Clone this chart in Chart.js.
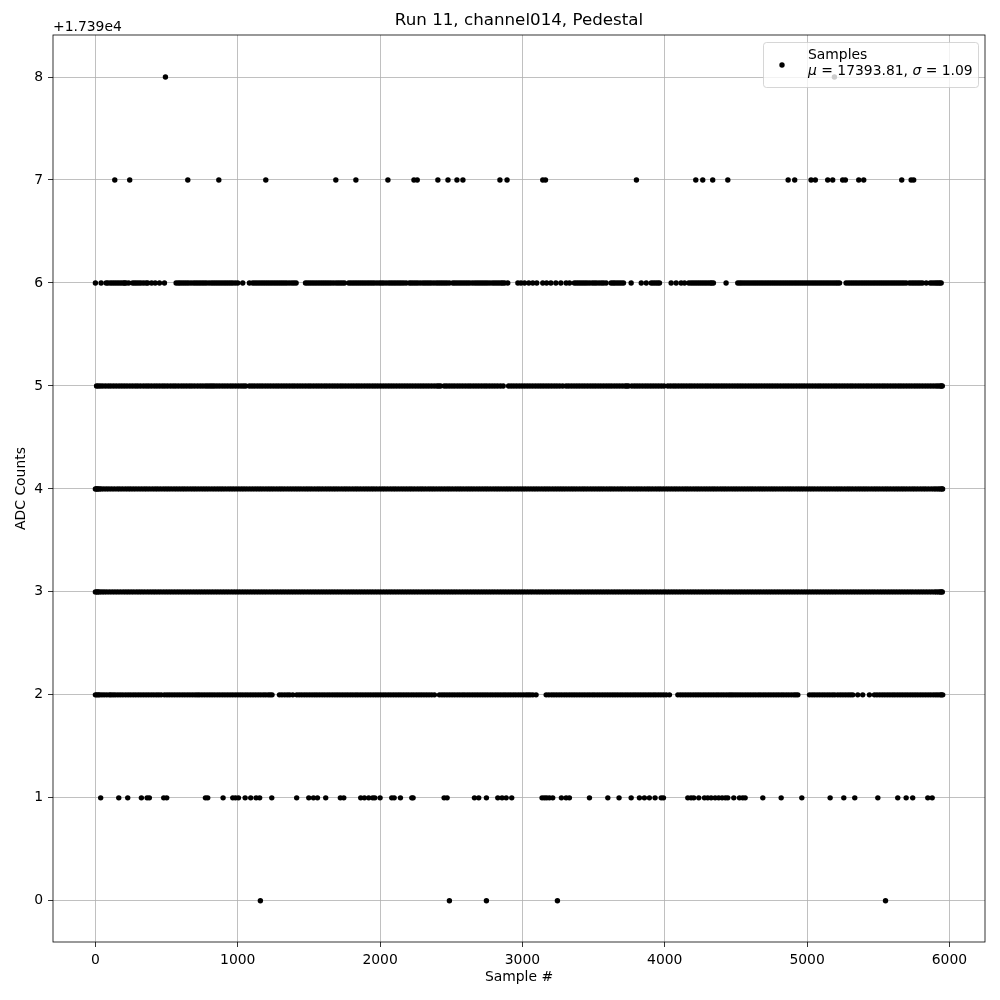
<!DOCTYPE html>
<html>
<head>
<meta charset="utf-8">
<script src="https://cdn.jsdelivr.net/npm/chart.js@4/dist/chart.umd.min.js"></script>
<style>
  html, body { margin: 0; padding: 0; background: #fff; }
  #wrap { width: 1000px; height: 1000px; }
</style>
</head>
<body>
<div id="wrap"><canvas id="graph" width="1000" height="1000"></canvas></div>
<script>
const adcLevels = [17390, 17391, 17392, 17393, 17394, 17395, 17396, 17397, 17398];

const samplesAt0 = [1159, 2487, 2747, 3246, 5551];

const samplesAt1 = [37, 164, 227, 323, 363, 379, 480, 501, 773, 789, 897, 965, 984, 1005, 1052, 1091, 1129, 1154,
  1239, 1414, 1499, 1532, 1560, 1618, 1721, 1745, 1864, 1890, 1920, 1948, 1963, 2000, 2082, 2099, 2143, 2223, 2232,
  2450, 2471, 2663, 2693, 2747, 2827, 2857, 2886, 2925, 3138, 3155, 3171, 3190, 3213, 3274, 3307, 3330, 3471, 3600,
  3679, 3764, 3822, 3857, 3892, 3932, 3975, 3991, 4162, 4185, 4204, 4239, 4279, 4302, 4326, 4354, 4379, 4403, 4426,
  4443, 4485, 4525, 4548, 4565, 4689, 4818, 4963, 5162, 5258, 5335, 5497, 5637, 5696, 5742, 5848, 5879];

const samplesAt2 = [0, 10, 30, 62, 98, 110, 140, 175, 212, 248, 284, 320, 356, 392, 428, 462, 485, 520, 556, 592,
  628, 664, 700, 731, 749, 785, 820, 856, 892, 928, 964, 1000, 1035, 1071, 1107, 1143, 1179, 1214, 1241, 1293, 1330,
  1365, 1387, 1415, 1450, 1486, 1522, 1557, 1593, 1629, 1665, 1700, 1736, 1772, 1808, 1843, 1879, 1915, 1951, 1986,
  2022, 2058, 2094, 2130, 2165, 2201, 2237, 2273, 2308, 2344, 2382, 2417, 2452, 2488, 2524, 2560, 2595, 2631, 2667,
  2703, 2738, 2774, 2810, 2846, 2881, 2917, 2953, 2989, 3025, 3055, 3073, 3096, 3167, 3205, 3240, 3276, 3312, 3348,
  3383, 3419, 3455, 3491, 3526, 3562, 3598, 3634, 3669, 3705, 3741, 3777, 3812, 3848, 3884, 3920, 3955, 3991, 4010,
  4033, 4092, 4128, 4164, 4200, 4235, 4271, 4307, 4343, 4378, 4414, 4450, 4480, 4514, 4549, 4585, 4621, 4657, 4692,
  4728, 4764, 4800, 4835, 4871, 4907, 4935, 5017, 5052, 5088, 5124, 5160, 5195, 5216, 5252, 5288, 5321, 5356, 5391,
  5438, 5473, 5510, 5546, 5582, 5617, 5653, 5689, 5725, 5760, 5796, 5832, 5868, 5903, 5935, 5953,
  20, 46, 80, 125, 158, 193, 230, 266, 302, 338, 374, 410, 445, 503, 538, 574, 610, 646, 682, 716, 767, 803, 838,
  874, 910, 946, 982, 1017, 1053, 1089, 1125, 1161, 1196, 1228, 1311, 1348, 1432, 1468, 1504, 1540, 1575, 1611, 1647,
  1683, 1718, 1754, 1790, 1826, 1861, 1897, 1933, 1969, 2004, 2040, 2076, 2112, 2147, 2183, 2219, 2255, 2290, 2326,
  2363, 2435, 2470, 2506, 2542, 2578, 2613, 2649, 2685, 2721, 2756, 2792, 2828, 2864, 2899, 2935, 2971, 3007, 3040,
  3186, 3222, 3258, 3294, 3330, 3365, 3401, 3437, 3473, 3508, 3544, 3580, 3616, 3651, 3687, 3723, 3759, 3794, 3830,
  3866, 3902, 3937, 3973, 4110, 4146, 4182, 4218, 4253, 4289, 4325, 4361, 4396, 4432, 4465, 4497, 4531, 4567, 4603,
  4639, 4674, 4710, 4746, 4782, 4818, 4853, 4889, 4921, 5035, 5070, 5106, 5142, 5178, 5234, 5270, 5305, 5491, 5528,
  5564, 5600, 5635, 5671, 5707, 5743, 5778, 5814, 5850, 5886, 5919, 5944];

const samplesAt3 = [0, 11, 30, 62, 99, 137, 175, 214, 251, 290, 327, 366, 404, 441, 480, 518, 556, 594, 632, 670,
  709, 747, 785, 823, 861, 899, 937, 976, 1014, 1052, 1090, 1128, 1166, 1204, 1243, 1281, 1319, 1357, 1395, 1433,
  1471, 1510, 1548, 1586, 1624, 1662, 1700, 1738, 1777, 1815, 1853, 1891, 1929, 1967, 2005, 2044, 2082, 2120, 2158,
  2196, 2234, 2272, 2311, 2349, 2387, 2425, 2463, 2501, 2539, 2578, 2616, 2654, 2692, 2730, 2768, 2806, 2845, 2883,
  2921, 2959, 2997, 3035, 3073, 3112, 3150, 3188, 3226, 3264, 3302, 3340, 3379, 3417, 3455, 3493, 3531, 3569, 3607,
  3646, 3684, 3722, 3760, 3798, 3836, 3874, 3913, 3951, 3989, 4027, 4065, 4103, 4141, 4180, 4218, 4256, 4294, 4332,
  4370, 4408, 4447, 4485, 4523, 4561, 4599, 4637, 4675, 4714, 4752, 4790, 4828, 4866, 4904, 4942, 4981, 5019, 5057,
  5095, 5133, 5171, 5209, 5248, 5286, 5324, 5362, 5400, 5438, 5476, 5515, 5553, 5591, 5629, 5667, 5705, 5743, 5782,
  5820, 5858, 5896, 5925, 5944, 5950,
  18, 46, 80, 118, 156, 195, 232, 270, 308, 346, 385, 422, 460, 499, 537, 575, 613, 651, 690, 728, 766, 804, 842,
  880, 918, 957, 995, 1033, 1071, 1109, 1147, 1185, 1224, 1262, 1300, 1338, 1376, 1414, 1452, 1491, 1529, 1567, 1605,
  1643, 1681, 1719, 1758, 1796, 1834, 1872, 1910, 1948, 1986, 2025, 2063, 2101, 2139, 2177, 2215, 2253, 2292, 2330,
  2368, 2406, 2444, 2482, 2520, 2559, 2597, 2635, 2673, 2711, 2749, 2787, 2826, 2864, 2902, 2940, 2978, 3016, 3054,
  3093, 3131, 3169, 3207, 3245, 3283, 3321, 3360, 3398, 3436, 3474, 3512, 3550, 3588, 3627, 3665, 3703, 3741, 3779,
  3817, 3855, 3894, 3932, 3970, 4008, 4046, 4084, 4122, 4161, 4199, 4237, 4275, 4313, 4351, 4389, 4428, 4466, 4504,
  4542, 4580, 4618, 4656, 4695, 4733, 4771, 4809, 4847, 4885, 4923, 4962, 5000, 5038, 5076, 5114, 5152, 5190, 5229,
  5267, 5305, 5343, 5381, 5419, 5457, 5496, 5534, 5572, 5610, 5648, 5686, 5724, 5763, 5801, 5839, 5877, 5910, 5936];

const samplesAt4 = [0, 6, 19, 41, 77, 114, 153, 190, 229, 266, 305, 343, 380, 419, 456, 495, 532, 571, 609, 646,
  685, 722, 761, 798, 837, 875, 912, 951, 988, 1027, 1064, 1103, 1141, 1178, 1217, 1254, 1293, 1330, 1369, 1407, 1444,
  1483, 1520, 1559, 1596, 1635, 1673, 1710, 1749, 1786, 1825, 1862, 1901, 1939, 1976, 2015, 2052, 2091, 2128, 2167,
  2205, 2242, 2281, 2318, 2357, 2394, 2433, 2471, 2508, 2547, 2584, 2623, 2660, 2699, 2737, 2774, 2813, 2850, 2889,
  2926, 2965, 3003, 3040, 3079, 3116, 3155, 3192, 3231, 3269, 3306, 3345, 3382, 3421, 3458, 3497, 3535, 3572, 3611,
  3648, 3687, 3724, 3763, 3801, 3838, 3877, 3914, 3953, 3990, 4029, 4067, 4104, 4143, 4180, 4219, 4256, 4295, 4333,
  4370, 4409, 4446, 4485, 4522, 4561, 4599, 4636, 4675, 4712, 4751, 4788, 4827, 4865, 4902, 4941, 4978, 5017, 5054,
  5093, 5131, 5168, 5207, 5244, 5283, 5320, 5359, 5397, 5434, 5473, 5510, 5549, 5586, 5625, 5663, 5700, 5739, 5776,
  5815, 5852, 5891, 5922, 5947, 5952,
  13, 30, 59, 95, 133, 171, 210, 247, 285, 324, 361, 400, 437, 476, 513, 552, 590, 627, 666, 703, 742, 779, 818, 856,
  893, 932, 969, 1008, 1045, 1084, 1122, 1159, 1198, 1235, 1274, 1311, 1350, 1388, 1425, 1464, 1501, 1540, 1577, 1616,
  1654, 1691, 1730, 1767, 1806, 1843, 1882, 1920, 1957, 1996, 2033, 2072, 2109, 2148, 2186, 2223, 2262, 2299, 2338,
  2375, 2414, 2452, 2489, 2528, 2565, 2604, 2641, 2680, 2718, 2755, 2794, 2831, 2870, 2907, 2946, 2984, 3021, 3060,
  3097, 3136, 3173, 3212, 3250, 3287, 3326, 3363, 3402, 3439, 3478, 3516, 3553, 3592, 3629, 3668, 3705, 3744, 3782,
  3819, 3858, 3895, 3934, 3971, 4010, 4048, 4085, 4124, 4161, 4200, 4237, 4276, 4314, 4351, 4390, 4427, 4466, 4503,
  4542, 4580, 4617, 4656, 4693, 4732, 4769, 4808, 4846, 4883, 4922, 4959, 4998, 5035, 5074, 5112, 5149, 5188, 5225,
  5264, 5301, 5340, 5378, 5415, 5454, 5491, 5530, 5567, 5606, 5644, 5681, 5720, 5757, 5796, 5833, 5872, 5906, 5935];

const samplesAt5 = [8, 20, 52, 90, 127, 166, 203, 242, 280, 317, 356, 393, 432, 470, 507, 546, 583, 622, 660, 697,
  736, 774, 806, 836, 872, 910, 948, 985, 1023, 1056, 1082, 1118, 1156, 1193, 1231, 1269, 1306, 1344, 1382, 1419,
  1457, 1495, 1532, 1570, 1608, 1645, 1683, 1721, 1758, 1796, 1834, 1871, 1909, 1947, 1984, 2022, 2060, 2097, 2135,
  2173, 2210, 2248, 2286, 2323, 2361, 2399, 2425, 2451, 2486, 2523, 2561, 2599, 2636, 2674, 2712, 2749, 2787, 2825,
  2865, 2903, 2940, 2978, 3016, 3053, 3091, 3129, 3166, 3204, 3242, 3283, 3307, 3344, 3382, 3419, 3457, 3495, 3532,
  3570, 3608, 3645, 3683, 3721, 3745, 3769, 3806, 3844, 3882, 3919, 3957, 3995, 4022, 4060, 4097, 4135, 4173, 4210,
  4248, 4286, 4323, 4361, 4399, 4436, 4474, 4512, 4549, 4587, 4625, 4662, 4700, 4738, 4775, 4813, 4851, 4888, 4926,
  4964, 5001, 5039, 5077, 5114, 5152, 5190, 5227, 5265, 5303, 5340, 5378, 5416, 5453, 5491, 5529, 5566, 5604, 5642,
  5679, 5717, 5755, 5792, 5830, 5868, 5905, 5935, 5950,
  35, 71, 108, 146, 185, 222, 261, 298, 337, 374, 413, 451, 488, 527, 564, 603, 641, 678, 717, 755, 790, 821, 854,
  891, 929, 966, 1004, 1040, 1100, 1137, 1174, 1212, 1250, 1287, 1325, 1363, 1400, 1438, 1476, 1513, 1551, 1589, 1626,
  1664, 1702, 1739, 1777, 1815, 1852, 1890, 1928, 1965, 2003, 2041, 2078, 2116, 2154, 2191, 2229, 2267, 2304, 2342,
  2380, 2412, 2468, 2505, 2542, 2580, 2618, 2655, 2693, 2731, 2768, 2806, 2845, 2921, 2959, 2997, 3034, 3072, 3110,
  3147, 3185, 3223, 3262, 3325, 3363, 3400, 3438, 3476, 3513, 3551, 3589, 3626, 3664, 3702, 3733, 3788, 3825, 3863,
  3901, 3938, 3976, 4041, 4078, 4116, 4154, 4191, 4229, 4267, 4304, 4342, 4380, 4417, 4455, 4493, 4530, 4568, 4606,
  4643, 4681, 4719, 4756, 4794, 4832, 4869, 4907, 4945, 4982, 5020, 5058, 5095, 5133, 5171, 5208, 5246, 5284, 5321,
  5359, 5397, 5434, 5472, 5510, 5547, 5585, 5623, 5660, 5698, 5736, 5773, 5811, 5849, 5886, 5920, 5943];

const samplesAt6 = [0, 40, 75, 105, 135, 165, 195, 215, 234, 262, 290, 320, 356, 368, 395, 420, 450, 485, 567, 595,
  625, 655, 690, 720, 750, 780, 815, 845, 875, 905, 935, 965, 1000, 1035, 1082, 1105, 1135, 1165, 1195, 1225, 1255,
  1285, 1315, 1345, 1380, 1410, 1476, 1505, 1535, 1565, 1595, 1625, 1655, 1690, 1720, 1750, 1780, 1810, 1840, 1870,
  1900, 1930, 1960, 1995, 2025, 2060, 2090, 2120, 2150, 2183, 2206, 2235, 2265, 2300, 2330, 2360, 2395, 2425, 2455,
  2487, 2511, 2540, 2570, 2600, 2630, 2665, 2695, 2725, 2755, 2790, 2820, 2850, 2875, 2897, 2968, 2990, 3015, 3045,
  3073, 3101, 3143, 3170, 3200, 3235, 3270, 3307, 3331, 3365, 3395, 3425, 3455, 3490, 3520, 3555, 3588, 3623, 3650,
  3680, 3710, 3764, 3835, 3870, 3905, 3935, 3963, 4045, 4080, 4115, 4139, 4169, 4200, 4230, 4260, 4290, 4320, 4342,
  4431, 4513, 4540, 4570, 4600, 4630, 4660, 4690, 4720, 4750, 4780, 4810, 4840, 4870, 4900, 4930, 4960, 4990, 5020,
  5050, 5080, 5110, 5140, 5170, 5200, 5228, 5274, 5305, 5335, 5365, 5395, 5425, 5455, 5485, 5515, 5545, 5575, 5605,
  5635, 5665, 5696, 5719, 5750, 5780, 5810, 5837, 5865, 5895, 5920, 5942,
  88, 120, 150, 180, 205, 276, 305, 338, 582, 610, 640, 672, 705, 735, 765, 798, 830, 860, 890, 920, 950, 982, 1120,
  1150, 1180, 1210, 1240, 1270, 1300, 1330, 1362, 1395, 1490, 1520, 1550, 1580, 1610, 1640, 1672, 1705, 1735, 1795,
  1825, 1855, 1885, 1915, 1945, 1978, 2010, 2042, 2075, 2105, 2135, 2166, 2220, 2250, 2282, 2315, 2345, 2378, 2410,
  2440, 2470, 2525, 2555, 2585, 2615, 2648, 2680, 2710, 2740, 2772, 2805, 2835, 2862, 3380, 3410, 3440, 3472, 3505,
  3538, 3570, 3637, 3665, 3695, 3920, 3950, 4185, 4215, 4245, 4275, 4305, 4330, 4527, 4555, 4585, 4615, 4645, 4675,
  4705, 4735, 4765, 4795, 4825, 4855, 4885, 4915, 4945, 4975, 5005, 5035, 5065, 5095, 5125, 5155, 5185, 5214, 5290,
  5320, 5350, 5380, 5410, 5440, 5470, 5500, 5530, 5560, 5590, 5620, 5650, 5680, 5735, 5765, 5795, 5880, 5908, 5932];

const samplesAt7 = [136, 241, 649, 867, 1197, 1689, 1830, 2055, 2238, 2261, 2406, 2477, 2540, 2582, 2842, 2892,
  3143, 3162, 3801, 4218, 4267, 4337, 4443, 4867, 4913, 5028, 5058, 5145, 5180, 5250, 5269, 5363, 5398, 5665, 5731,
  5749];

const samplesAt8 = [492, 5192];

const samplesByLevel = [samplesAt0, samplesAt1, samplesAt2, samplesAt3, samplesAt4,
  samplesAt5, samplesAt6, samplesAt7, samplesAt8];

const xTicks = [0, 1000, 2000, 3000, 4000, 5000, 6000];
const yTicks = [17390, 17391, 17392, 17393, 17394, 17395, 17396, 17397, 17398];
const yOffset = 17390;
const yOffsetLabel = "+1.739e4";
const titleText = "Run 11, channel014, Pedestal";
const meanText = "17393.81";
const sigmaText = "1.09";

const FONT = "'DejaVu Sans', 'Liberation Sans', sans-serif";

const points = [];
adcLevels.forEach((lvl, i) => {
  samplesByLevel[i].forEach(s => points.push({ x: s, y: lvl }));
});

const mplExtras = {
  id: "mplExtras",
  afterDraw(chart) {
    const ctx = chart.ctx;
    const a = chart.chartArea;
    ctx.save();
    // axes frame
    ctx.strokeStyle = "#000";
    ctx.lineWidth = 0.8;
    ctx.strokeRect(a.left, a.top, a.right - a.left, a.bottom - a.top);

    // title, centred over the axes
    ctx.fillStyle = "#000";
    ctx.font = "16.7px " + FONT;
    ctx.textAlign = "center";
    ctx.textBaseline = "middle";
    ctx.fillText(titleText, (a.left + a.right) / 2, 21);

    // offset text
    ctx.font = "13.9px " + FONT;
    ctx.textBaseline = "alphabetic";
    ctx.textAlign = "left";
    ctx.fillText(yOffsetLabel, a.left, 31);

    // legend
    const bx = 763.5, by = 42.5, bw = 215, bh = 45;
    ctx.beginPath();
    ctx.roundRect(bx, by, bw, bh, 3);
    ctx.fillStyle = "rgba(255,255,255,0.8)";
    ctx.fill();
    ctx.strokeStyle = "rgba(204,204,204,0.8)";
    ctx.lineWidth = 1;
    ctx.stroke();
    ctx.beginPath();
    ctx.arc(782, 65, 2.7, 0, Math.PI * 2);
    ctx.fillStyle = "#000";
    ctx.fill();

    ctx.font = "13.9px " + FONT;
    ctx.fillText("Samples", 808, 58.5);
    let x = 808;
    const y2 = 74.5;
    const parts = [
      ["μ", true], [" = " + meanText + ", ", false], ["σ", true], [" = " + sigmaText, false]
    ];
    parts.forEach(([t, it]) => {
      ctx.font = (it ? "italic " : "") + "13.9px " + FONT;
      ctx.fillText(t, x, y2);
      x += ctx.measureText(t).width;
    });
    ctx.restore();
  }
};

const ctx = document.getElementById("graph").getContext("2d");
new Chart(ctx, {
  type: "scatter",
  data: {
    datasets: [{
      label: "Samples",
      data: points,
      backgroundColor: "#000",
      borderWidth: 0,
      pointRadius: 2.7,
      pointHoverRadius: 2.7,
    }],
  },
  options: {
    responsive: false,
    animation: false,
    devicePixelRatio: 1,
    events: [],
    layout: { padding: { top: 35, right: 15, bottom: 0, left: 0 } },
    plugins: {
      legend: { display: false },
      tooltip: { enabled: false },
      title: { display: false },
    },
    scales: {
      x: {
        type: "linear",
        min: -298,
        max: 6250,
        afterFit: s => { s.height = 58; },
        afterBuildTicks: s => { s.ticks = xTicks.map(v => ({ value: v })); },
        grid: { color: "#b0b0b0", lineWidth: 0.8, tickColor: "#000", tickLength: 5, tickWidth: 0.8 },
        border: { display: false },
        ticks: { color: "#000", font: { family: FONT, size: 13.9 }, padding: 5, maxRotation: 0,
          callback: v => String(v) },
        title: { display: true, text: "Sample #", color: "#000",
          font: { family: FONT, size: 13.9 }, padding: { top: 0, bottom: 14.7 } },
      },
      y: {
        type: "linear",
        min: yOffset - 0.4,
        max: yOffset + 8.408,
        afterFit: s => { s.width = 53; },
        afterBuildTicks: s => { s.ticks = yTicks.map(v => ({ value: v })); },
        grid: { color: "#b0b0b0", lineWidth: 0.8, tickColor: "#000", tickLength: 5, tickWidth: 0.8 },
        border: { display: false },
        ticks: { color: "#000", font: { family: FONT, size: 13.9 }, padding: 5,
          callback: v => String(Math.round(v - yOffset)) },
        title: { display: true, text: "ADC Counts", color: "#000",
          font: { family: FONT, size: 13.9 }, padding: { top: 12.7, bottom: 0 } },
      },
    },
  },
  plugins: [mplExtras],
});
</script>
</body>
</html>
